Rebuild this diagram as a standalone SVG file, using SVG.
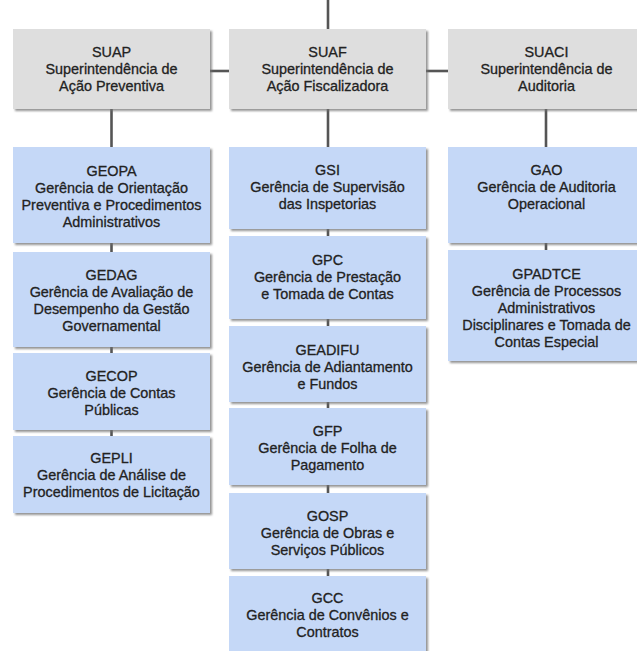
<svg xmlns="http://www.w3.org/2000/svg" width="637" height="651" viewBox="0 0 637 651">
  <defs>
    <filter id="shadow" x="-5%" y="-5%" width="115%" height="120%">
      <feDropShadow dx="2" dy="2" stdDeviation="0.9" flood-color="#6f6f6f" flood-opacity="0.75"/>
    </filter>
  </defs>
  <style>
    .sup { fill: #dedede; filter: url(#shadow); }
    .ger { fill: #c5d8f7; filter: url(#shadow); }
    .lbl { font-family: "Liberation Sans", Arial, sans-serif; font-size: 14.4px; fill: #222222; stroke: #222222; stroke-width: 0.3; text-anchor: middle; }
    .ln { stroke: #555555; stroke-width: 2.6; fill: none; }
    .tick { stroke: #555555; stroke-width: 2.6; fill: none; }
  </style>
  <rect width="637" height="651" fill="#ffffff"/>

  <!-- connectors -->
  <g id="connectors">
    <line class="ln" x1="328" y1="0" x2="328" y2="30"/>
    <line class="ln" x1="210" y1="71" x2="229" y2="71"/>
    <line class="ln" x1="426" y1="71" x2="448" y2="71"/>
    <line class="ln" x1="111.5" y1="109" x2="111.5" y2="147"/>
    <line class="ln" x1="328" y1="109" x2="328" y2="147"/>
    <line class="ln" x1="546" y1="109" x2="546" y2="147"/>
    <!-- short links between stacked units -->
    <line class="tick" x1="111.5" y1="243" x2="111.5" y2="252"/>
    <line class="tick" x1="111.5" y1="347" x2="111.5" y2="353"/>
    <line class="tick" x1="111.5" y1="430" x2="111.5" y2="436"/>
    <line class="tick" x1="328" y1="229" x2="328" y2="236"/>
    <line class="tick" x1="328" y1="319" x2="328" y2="326"/>
    <line class="tick" x1="328" y1="402" x2="328" y2="408"/>
    <line class="tick" x1="328" y1="485" x2="328" y2="493"/>
    <line class="tick" x1="328" y1="569" x2="328" y2="576"/>
    <line class="tick" x1="546" y1="243" x2="546" y2="250"/>
  </g>

  <!-- superintendencies -->
  <g id="suap">
    <rect class="sup" x="13" y="29" width="197" height="80"/>
    <text class="lbl" x="111.5" y="57">SUAP</text>
    <text class="lbl" x="111.5" y="74">Superintendência de</text>
    <text class="lbl" x="111.5" y="91">Ação Preventiva</text>
  </g>
  <g id="suaf">
    <rect class="sup" x="229" y="29" width="197" height="80"/>
    <text class="lbl" x="327.5" y="57">SUAF</text>
    <text class="lbl" x="327.5" y="74">Superintendência de</text>
    <text class="lbl" x="327.5" y="91">Ação Fiscalizadora</text>
  </g>
  <g id="suaci">
    <rect class="sup" x="448" y="29" width="197" height="80"/>
    <text class="lbl" x="546.5" y="57">SUACI</text>
    <text class="lbl" x="546.5" y="74">Superintendência de</text>
    <text class="lbl" x="546.5" y="91">Auditoria</text>
  </g>

  <!-- SUAP units -->
  <g id="geopa">
    <rect class="ger" x="13" y="147" width="197" height="96"/>
    <text class="lbl" x="111.5" y="176">GEOPA</text>
    <text class="lbl" x="111.5" y="193">Gerência de Orientação</text>
    <text class="lbl" x="111.5" y="210">Preventiva e Procedimentos</text>
    <text class="lbl" x="111.5" y="227">Administrativos</text>
  </g>
  <g id="gedag">
    <rect class="ger" x="13" y="252" width="197" height="95"/>
    <text class="lbl" x="111.5" y="280">GEDAG</text>
    <text class="lbl" x="111.5" y="297">Gerência de Avaliação de</text>
    <text class="lbl" x="111.5" y="314">Desempenho da Gestão</text>
    <text class="lbl" x="111.5" y="331">Governamental</text>
  </g>
  <g id="gecop">
    <rect class="ger" x="13" y="353" width="197" height="77"/>
    <text class="lbl" x="111.5" y="381">GECOP</text>
    <text class="lbl" x="111.5" y="398">Gerência de Contas</text>
    <text class="lbl" x="111.5" y="415">Públicas</text>
  </g>
  <g id="gepli">
    <rect class="ger" x="13" y="436" width="197" height="77"/>
    <text class="lbl" x="111.5" y="463">GEPLI</text>
    <text class="lbl" x="111.5" y="480">Gerência de Análise de</text>
    <text class="lbl" x="111.5" y="497">Procedimentos de Licitação</text>
  </g>

  <!-- SUAF units -->
  <g id="gsi">
    <rect class="ger" x="229" y="147" width="197" height="82"/>
    <text class="lbl" x="327.5" y="175">GSI</text>
    <text class="lbl" x="327.5" y="192">Gerência de Supervisão</text>
    <text class="lbl" x="327.5" y="209">das Inspetorias</text>
  </g>
  <g id="gpc">
    <rect class="ger" x="229" y="236" width="197" height="83"/>
    <text class="lbl" x="327.5" y="265">GPC</text>
    <text class="lbl" x="327.5" y="282">Gerência de Prestação</text>
    <text class="lbl" x="327.5" y="299">e Tomada de Contas</text>
  </g>
  <g id="geadifu">
    <rect class="ger" x="229" y="326" width="197" height="76"/>
    <text class="lbl" x="327.5" y="355">GEADIFU</text>
    <text class="lbl" x="327.5" y="372">Gerência de Adiantamento</text>
    <text class="lbl" x="327.5" y="389">e Fundos</text>
  </g>
  <g id="gfp">
    <rect class="ger" x="229" y="408" width="197" height="77"/>
    <text class="lbl" x="327.5" y="436">GFP</text>
    <text class="lbl" x="327.5" y="453">Gerência de Folha de</text>
    <text class="lbl" x="327.5" y="470">Pagamento</text>
  </g>
  <g id="gosp">
    <rect class="ger" x="229" y="493" width="197" height="76"/>
    <text class="lbl" x="327.5" y="521">GOSP</text>
    <text class="lbl" x="327.5" y="538">Gerência de Obras e</text>
    <text class="lbl" x="327.5" y="555">Serviços Públicos</text>
  </g>
  <g id="gcc">
    <rect class="ger" x="229" y="576" width="197" height="82"/>
    <text class="lbl" x="327.5" y="603">GCC</text>
    <text class="lbl" x="327.5" y="620">Gerência de Convênios e</text>
    <text class="lbl" x="327.5" y="637">Contratos</text>
  </g>

  <!-- SUACI units -->
  <g id="gao">
    <rect class="ger" x="448" y="147" width="197" height="96"/>
    <text class="lbl" x="546.5" y="175">GAO</text>
    <text class="lbl" x="546.5" y="192">Gerência de Auditoria</text>
    <text class="lbl" x="546.5" y="209">Operacional</text>
  </g>
  <g id="gpadtce">
    <rect class="ger" x="448" y="250" width="197" height="111"/>
    <text class="lbl" x="546.5" y="279">GPADTCE</text>
    <text class="lbl" x="546.5" y="296">Gerência de Processos</text>
    <text class="lbl" x="546.5" y="313">Administrativos</text>
    <text class="lbl" x="546.5" y="330">Disciplinares e Tomada de</text>
    <text class="lbl" x="546.5" y="347">Contas Especial</text>
  </g>
</svg>
